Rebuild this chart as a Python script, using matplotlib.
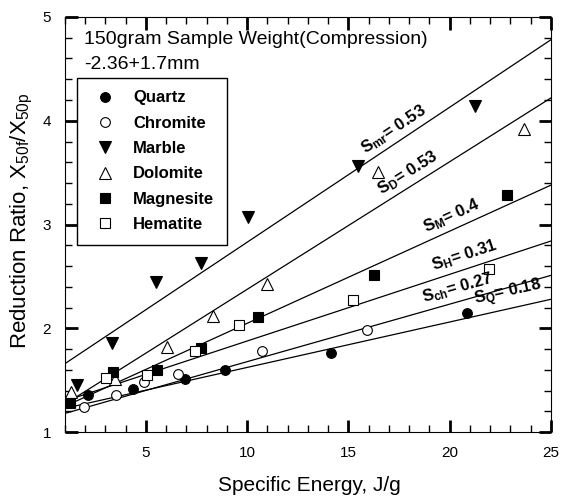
import numpy as np
import matplotlib
matplotlib.use("Agg")
import matplotlib.pyplot as plt
from matplotlib.ticker import MultipleLocator, FixedLocator

plt.rcParams['font.family'] = ['Liberation Sans', 'DejaVu Sans']
plt.rcParams['mathtext.fontset'] = 'custom'
plt.rcParams['mathtext.rm'] = 'Liberation Sans'
plt.rcParams['mathtext.it'] = 'Liberation Sans:italic'
plt.rcParams['mathtext.bf'] = 'Liberation Sans:bold'

# measured points, specific energy (J/g) vs reduction ratio
quartz_x = [2.15, 4.36, 6.92, 8.88, 14.13, 20.85]
quartz_y = [1.36, 1.42, 1.51, 1.60, 1.76, 2.15]
chromite_x = [1.92, 3.51, 4.90, 6.56, 10.74, 15.93]
chromite_y = [1.24, 1.36, 1.48, 1.56, 1.78, 1.98]
marble_x = [1.59, 3.31, 5.49, 7.74, 10.03, 15.49, 21.26]
marble_y = [1.45, 1.855, 2.45, 2.63, 3.075, 3.56, 4.14]
dolomite_x = [1.30, 3.48, 6.02, 8.31, 10.98, 16.45, 23.67]
dolomite_y = [1.39, 1.51, 1.82, 2.12, 2.43, 3.51, 3.92]
magnesite_x = [1.26, 3.36, 5.53, 7.74, 10.52, 16.26, 22.85]
magnesite_y = [1.28, 1.575, 1.60, 1.81, 2.11, 2.51, 3.28]
hematite_x = [3.03, 5.03, 7.41, 9.59, 15.24, 21.95]
hematite_y = [1.52, 1.555, 1.78, 2.03, 2.27, 2.57]

# linear fits (y = a + b*x), drawn across the whole x range
fit_a = [1.186, 1.125, 1.53, 1.147, 1.161, 1.236]
fit_b = [0.04375, 0.0554, 0.130, 0.1229, 0.08875, 0.0642]
slope_text = [r'$\mathbf{S_{Q}}$= 0.18', r'$\mathbf{S_{ch}}$= 0.27',
              r'$\mathbf{S_{mr}}$= 0.53', r'$\mathbf{S_{D}}$= 0.53',
              r'$\mathbf{S_{M}}$= 0.4', r'$\mathbf{S_{H}}$= 0.31']
text_x = [23.0, 20.5, 17.5, 18.2, 20.3, 20.9]

names = ['Quartz', 'Chromite', 'Marble', 'Dolomite', 'Magnesite', 'Hematite']
xs = [quartz_x, chromite_x, marble_x, dolomite_x, magnesite_x, hematite_x]
ys = [quartz_y, chromite_y, marble_y, dolomite_y, magnesite_y, hematite_y]
markers = ['o', 'o', 'v', '^', 's', 's']
fills = ['black', 'white', 'black', 'white', 'black', 'white']
sizes = [7, 7, 8, 8, 7, 7]

fig = plt.figure(figsize=(5.65, 4.99), dpi=100)
ax = fig.add_axes([0.115, 0.134, 0.86, 0.832])

xline = np.array([1, 25])
for a, b in zip(fit_a, fit_b):
    ax.plot(xline, a + b * xline, color='black', lw=0.9, zorder=1)

for name, x, y, m, fc, ms in zip(names, xs, ys, markers, fills, sizes):
    ax.plot(x, y, linestyle='none', marker=m, markerfacecolor=fc,
            markeredgecolor='black', markeredgewidth=0.8, markersize=ms,
            label=name, zorder=3)

# slope labels sit just above their fit lines
for s, tx, a, b in zip(slope_text, text_x, fit_a, fit_b):
    ang = np.degrees(np.arctan(b))
    ax.text(tx, a + b * tx + 0.04, s, fontsize=12, fontweight='bold',
            ha='center', va='bottom', rotation=ang, rotation_mode='anchor',
            transform_rotates_text=True)

ax.text(0.04, 0.965, '150gram Sample Weight(Compression)\n-2.36+1.7mm',
        transform=ax.transAxes, fontsize=14, va='top', ha='left',
        linespacing=1.55)

leg = ax.legend(loc='upper left', bbox_to_anchor=(0.025, 0.853),
                borderaxespad=0, fancybox=False, edgecolor='black',
                prop={'weight': 'bold', 'size': 12}, handlelength=1.85,
                handletextpad=0.75, labelspacing=0.62, borderpad=0.75,
                framealpha=1)
leg.get_frame().set_linewidth(1.0)

ax.set_xlim(1, 25)
ax.set_ylim(1, 5)
ax.xaxis.set_major_locator(FixedLocator([5, 10, 15, 20, 25]))
ax.xaxis.set_minor_locator(MultipleLocator(1))
ax.yaxis.set_major_locator(MultipleLocator(1))
ax.yaxis.set_minor_locator(MultipleLocator(0.2))
ax.tick_params(which='both', direction='in', top=True, right=True, labelsize=11)
ax.tick_params(which='major', length=9, width=2)
ax.tick_params(which='minor', length=5, width=1)
ax.tick_params(axis='x', pad=10)
ax.tick_params(axis='y', pad=10)

ax.set_xlabel('Specific Energy, J/g', fontsize=15)
ax.set_ylabel(r'Reduction Ratio, X$_{\mathrm{50f}}$/X$_{\mathrm{50p}}$',
              fontsize=16)
ax.xaxis.set_label_coords(0.502, -0.105)
ax.yaxis.set_label_coords(-0.062, 0.508)

fig.savefig('out.png', dpi=100)
